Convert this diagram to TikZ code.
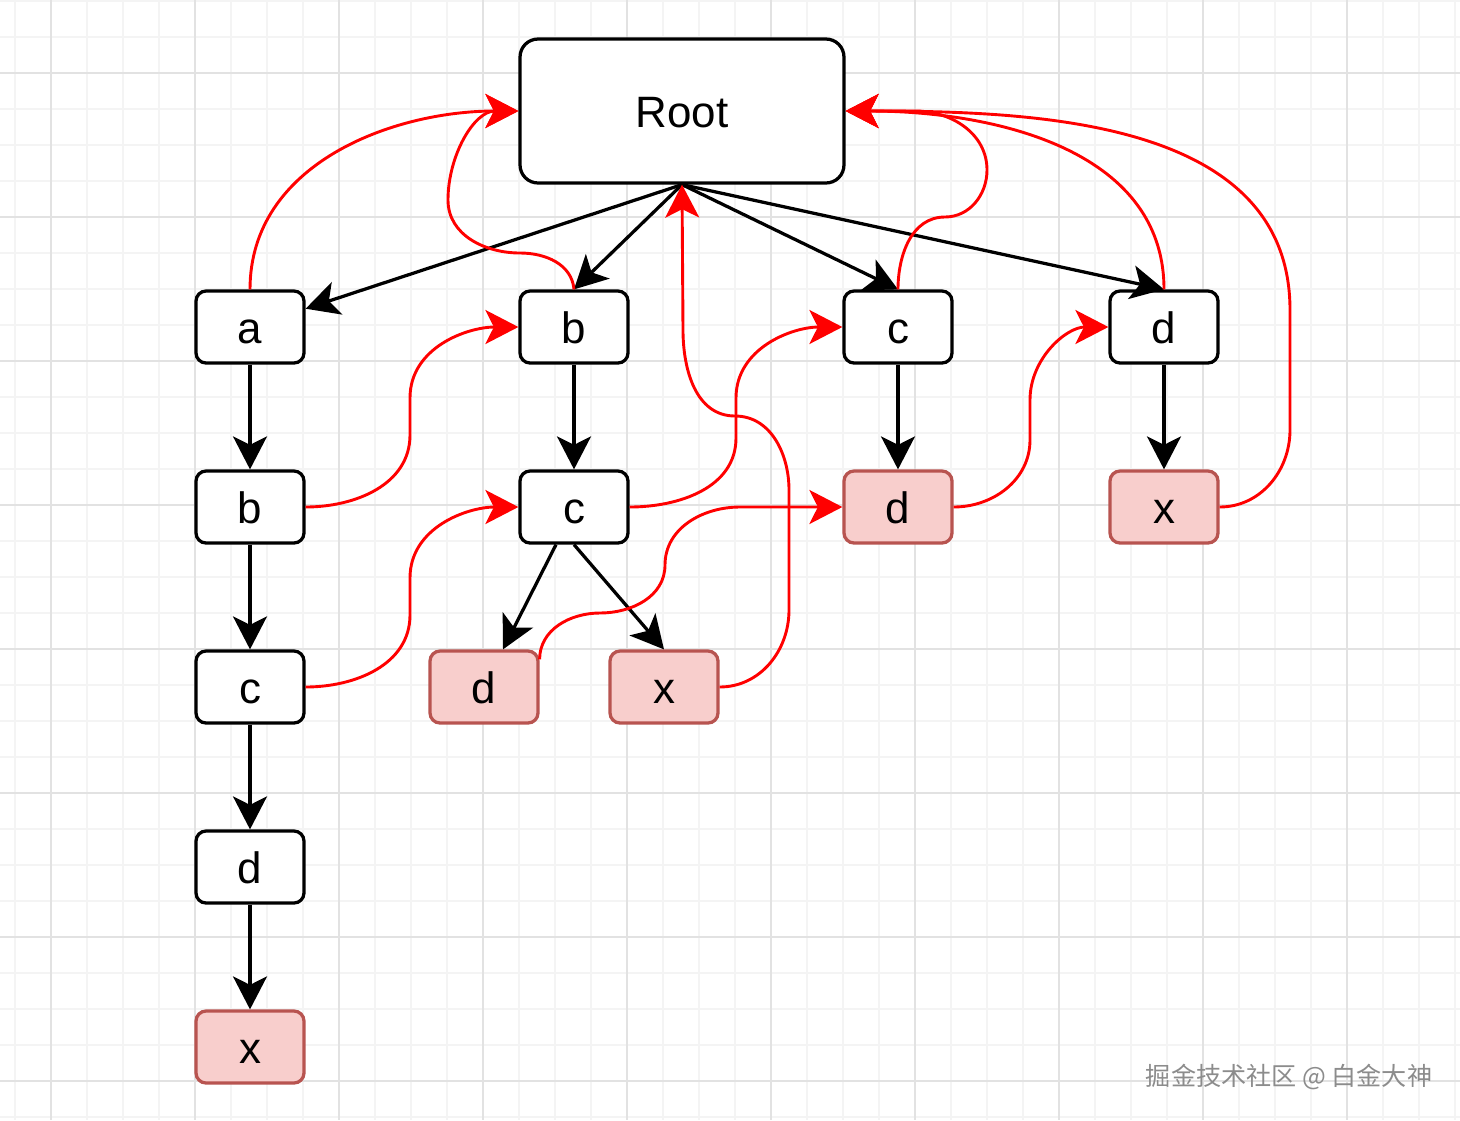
\documentclass[tikz,border=0pt]{standalone}
\usepackage{fontspec}
\setmainfont{Liberation Sans}
\newfontfamily\cjkfont{Noto Sans CJK SC}
\usetikzlibrary{arrows.meta}
\definecolor{gridmajor}{HTML}{E2E2E2}
\definecolor{gridminor}{HTML}{F4F4F4}
\definecolor{hitfill}{HTML}{F8CECC}
\definecolor{hitdraw}{HTML}{B85450}
\tikzset{
  trie/.style={draw=black, line width=0.065cm, rounded corners=0.2cm, fill=white,
    minimum width=2.16cm, minimum height=1.44cm, inner sep=0pt,
    text height=0.64cm, text depth=0cm,
    font=\fontsize{25}{30}\selectfont},
  leaf/.style={trie, draw=hitdraw, fill=hitfill},
  rootbox/.style={trie, rounded corners=0.36cm, minimum width=6.48cm, minimum height=2.88cm},
  treearrow/.style={line width=0.065cm, -{Stealth[length=0.66cm,width=0.68cm,inset=0.17cm]}},
  backlink/.style={treearrow, red, line width=0.058cm},
}
\begin{document}
\begin{tikzpicture}
    [x=0.02cm,y=-0.02cm]
    \useasboundingbox (0,0) rectangle (1460,1120);
    %grid
    \fill[white] (0,0) rectangle (1460,1120);
    \foreach \gx in {15,51,...,1455} \draw[gridminor, line width=0.03cm] (\gx,0)--(\gx,1120);
    \foreach \gy in {1,37,...,1117} \draw[gridminor, line width=0.03cm] (0,\gy)--(1460,\gy);
    \foreach \gx in {51,195,...,1347} \draw[gridmajor, line width=0.04cm] (\gx,0)--(\gx,1120);
    \foreach \gy in {73,217,...,1081} \draw[gridmajor, line width=0.04cm] (0,\gy)--(1460,\gy);
    %nodes
    \node[rootbox] (root) at (682,111) {Root};
    \node[trie] (a1) at (250,327) {a};
    \node[trie] (b1) at (250,507) {b};
    \node[trie] (c1) at (250,687) {c};
    \node[trie] (d1) at (250,867) {d};
    \node[leaf] (x1) at (250,1047) {x};
    \node[trie] (b2) at (574,327) {b};
    \node[trie] (c2) at (574,507) {c};
    \node[leaf] (d2) at (484,687) {d};
    \node[leaf] (x2) at (664,687) {x};
    \node[trie] (c3) at (898,327) {c};
    \node[leaf] (d3) at (898,507) {d};
    \node[trie] (d4) at (1164,327) {d};
    \node[leaf] (x4) at (1164,507) {x};
    %tree edges
    \draw[treearrow] (root.south) -- (a1);
    \draw[treearrow] (root.south) -- (b2.north);
    \draw[treearrow] (root.south) -- (c3.north);
    \draw[treearrow] (root.south) -- (d4.north);
    \draw[treearrow] (a1) -- (b1);
    \draw[treearrow] (b1) -- (c1);
    \draw[treearrow] (c1) -- (d1);
    \draw[treearrow] (d1) -- (x1);
    \draw[treearrow] (b2) -- (c2);
    \draw[treearrow] ([xshift=-0.36cm]c2.south) -- ([xshift=0.38cm]d2.north);
    \draw[treearrow] (c2.south) -- (x2.north);
    \draw[treearrow] (c3) -- (d3);
    \draw[treearrow] (d4) -- (x4);
    %red links between branches
    \draw[backlink] (b1.east) to[out=0,in=-90] (410,435) -- (410,398) to[out=90,in=180] (b2.west);
    \draw[backlink] (c1.east) to[out=0,in=-90] (410,615) -- (410,578) to[out=90,in=180] (c2.west);
    \draw[backlink] (c2.east) to[out=0,in=-90] (736,438) -- (736,398) to[out=90,in=180] (c3.west);
    \draw[backlink] (d3.east) to[out=0,in=-90] (1030,440) -- (1030,400) to[out=90,in=180] (d4.west);
    \draw[backlink] ([yshift=-0.2cm]d2.north east) to[out=90,in=180] (600,613)
      to[out=0,in=-90] (665,565) to[out=90,in=180] (740,507) -- (d3.west);
    %red links back to root
    \draw[backlink] (a1.north) to[out=90,in=180] (root.west);
    \draw[backlink] (b2.north) to[out=95,in=0] (520,253) to[out=180,in=-90] (448,200)
      to[out=90,in=180] (root.west);
    \draw[backlink] (x2.east) to[out=0,in=-90] (789,610) -- (789,490) to[out=90,in=0] (735,416)
      to[out=180,in=-90] (683,330) -- (root.south);
    \draw[backlink] (c3.north) to[out=90,in=180] (945,217) to[out=0,in=-90] (987,170)
      to[out=90,in=0] (915,111) -- (root.east);
    \draw[backlink] (d4.north) to[out=90,in=0] (root.east);
    \draw[backlink] (x4.east) to[out=0,in=-90] (1290,430) -- (1290,310) to[out=90,in=0] (root.east);
    %watermark
    \node[text=black!45, font=\cjkfont\fontsize{14.3}{17}\selectfont] (mark) at (1289,1077) {掘金技术社区 @ 白金大神};
\end{tikzpicture}
\end{document}
